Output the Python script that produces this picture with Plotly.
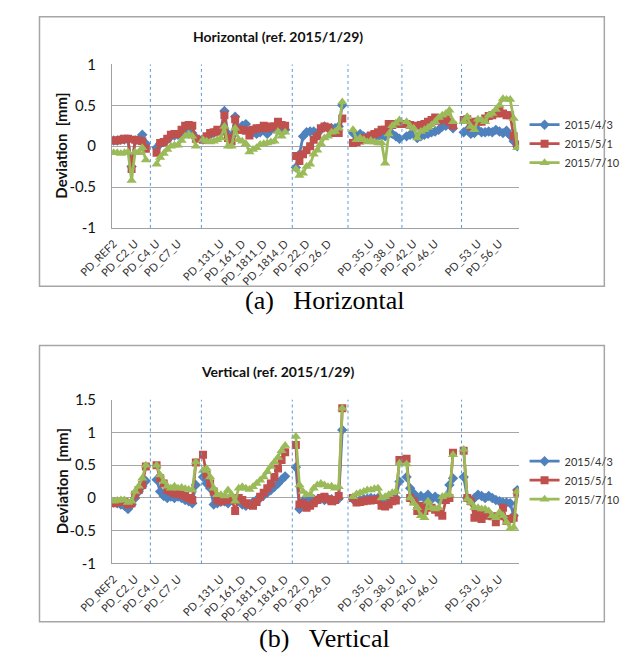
import plotly.graph_objects as go

W, H = 626, 659
N_POINTS = 114
series_names = ["2015/4/3", "2015/5/1", "2015/7/10"]
series_colors = ["#4F81BD", "#C0504D", "#9BBB59"]
series_symbols = ["diamond", "square", "triangle-up"]

# x tick labels, one every 6 categories (blank = empty category label)
tick_labels = ["PD_REF2", "PD_C2_U", "PD_C4_U", "PD_C7_U", "", "PD_131_U", "PD_161_D",
               "PD_1811_D", "PD_1814_D", "PD_22_D", "PD_26_D", "", "PD_35_U", "PD_38_U",
               "PD_42_U", "PD_46_U", "", "PD_53_U", "PD_56_U"]
label_step = 6
# section separators (category position)
section_breaks = [10.26, 24.55, 50.0, 65.6, 80.7, 97.4]

_ = None
# ---------------- Horizontal ----------------
h_blue = [0.07, 0.07, 0.08, 0.08, 0.08, -0.25, 0.07, 0.08, 0.14, 0.03, _, _,
          -0.02, 0.03, 0.05, 0.08, 0.12, 0.13, 0.14, 0.15, 0.17, 0.18, 0.16, 0.1, _,
          0.08, 0.1, 0.14, 0.16, 0.18, 0.2, 0.43, 0.15, 0.12, 0.36, 0.22, 0.25, 0.27, 0.17, 0.17, 0.15,
          0.17, 0.2, 0.15, 0.2, 0.22, 0.25, 0.18, 0.2, _, _,
          -0.26, -0.1, 0.12, 0.17, 0.18, 0.18, 0.16, 0.2, 0.24, 0.22, 0.22, 0.22, 0.24, 0.5, _, _,
          0.16, 0.13, 0.15, 0.12, 0.11, 0.12, 0.13, 0.12, 0.13, 0.12, 0.15, 0.15, 0.12, 0.09, _,
          0.12, 0.14, 0.15, 0.1, 0.12, 0.14, 0.15, 0.17, 0.18, 0.2, 0.24, 0.25, 0.27, 0.22, _, _,
          0.17, 0.2, 0.15, 0.16, 0.2, 0.17, 0.17, 0.18, 0.17, 0.2, 0.18, 0.16, 0.19, 0.13, 0.06, 0.0]
h_red = [0.07, 0.07, 0.08, 0.09, 0.09, -0.28, 0.08, 0.07, 0.06, -0.03, _, _,
         -0.08, 0.04, 0.05, 0.09, 0.14, 0.15, 0.15, 0.2, 0.25, 0.26, 0.25, 0.09, _,
         0.08, 0.12, 0.16, 0.17, 0.2, 0.18, 0.38, 0.1, 0.06, 0.33, 0.2, 0.2, 0.19, 0.13, 0.2, 0.22,
         0.22, 0.25, 0.22, 0.24, 0.24, 0.3, 0.26, 0.25, _, _,
         -0.12, -0.18, -0.1, -0.05, 0.0, 0.08, 0.12, 0.22, 0.24, 0.23, 0.18, 0.16, 0.16, 0.34, _, _,
         0.04, 0.05, 0.07, 0.1, 0.1, 0.13, 0.15, 0.17, 0.2, 0.2, 0.27, 0.26, 0.27, 0.27, _,
         0.27, 0.26, 0.24, 0.25, 0.26, 0.27, 0.3, 0.32, 0.35, 0.31, 0.33, 0.33, 0.3, 0.25, _, _,
         0.32, 0.33, 0.24, 0.3, 0.3, 0.3, 0.34, 0.37, 0.38, 0.4, 0.43, 0.4, 0.38, 0.38, 0.12, 0.02]
h_green = [-0.08, -0.08, -0.09, -0.08, -0.07, -0.42, -0.07, -0.08, -0.02, -0.17, _, _,
           -0.22, -0.14, -0.09, -0.04, 0.0, 0.01, 0.01, 0.07, 0.12, 0.15, 0.12, 0.0, _,
           0.08, 0.06, 0.05, 0.06, 0.08, 0.1, 0.24, 0.0, 0.0, 0.22, 0.08, 0.06, 0.03, -0.07, -0.04, -0.02,
           0.02, 0.03, 0.04, 0.05, 0.06, 0.18, 0.12, 0.17, _, _,
           -0.28, -0.36, -0.33, -0.25, -0.22, -0.1, -0.05, 0.03, 0.1, 0.12, 0.17, 0.18, 0.22, 0.54, _, _,
           0.2, 0.08, 0.1, 0.08, 0.05, 0.07, 0.05, 0.04, 0.04, -0.21, 0.15, 0.25, 0.28, 0.32, _,
           0.3, 0.24, 0.22, 0.1, 0.18, 0.2, 0.23, 0.26, 0.3, 0.35, 0.38, 0.4, 0.44, 0.3, _, _,
           0.3, 0.36, 0.24, 0.2, 0.33, 0.32, 0.3, 0.38, 0.4, 0.45, 0.5, 0.58, 0.57, 0.57, 0.34, -0.02]

# ---------------- Vertical ----------------
v_blue = [-0.07, -0.08, -0.1, -0.12, -0.17, -0.1, 0.0, 0.1, 0.18, 0.26, _, _,
          0.28, 0.1, 0.03, 0.0, 0.02, 0.0, 0.02, 0.0, -0.03, -0.05, -0.08, 0.2, _,
          0.32, 0.22, 0.15, -0.1, -0.08, -0.06, -0.05, -0.08, -0.03, -0.02, -0.05, -0.1, -0.12, -0.1, -0.06, -0.03,
          0.0, 0.04, 0.08, 0.12, 0.17, 0.22, 0.28, 0.33, _, _,
          0.47, -0.17, -0.05, -0.05, -0.03, -0.02, -0.03, -0.01, -0.03, -0.02, -0.02, -0.04, -0.01, 1.04, _, _,
          -0.02, -0.05, -0.03, -0.02, -0.01, 0.0, -0.01, 0.0, -0.08, -0.07, -0.03, -0.02, 0.0, 0.25, _,
          0.32, 0.15, 0.07, 0.0, 0.03, 0.0, 0.05, -0.02, 0.02, -0.02, -0.02, 0.0, 0.2, 0.3, _, _,
          0.32, 0.0, -0.05, 0.0, 0.05, 0.03, 0.0, 0.03, 0.0, -0.03, -0.05, -0.07, -0.07, -0.08, -0.27, 0.12]
v_red = [-0.08, -0.07, -0.06, -0.06, -0.1, -0.08, 0.05, 0.12, 0.2, 0.48, _, _,
         0.5, 0.3, 0.22, 0.12, 0.1, 0.07, 0.07, 0.05, 0.03, 0.0, -0.03, 0.54, _,
         0.66, 0.35, 0.22, 0.1, -0.04, -0.05, -0.04, -0.03, 0.0, -0.2, 0.0, -0.03, -0.08, -0.1, -0.12, -0.06,
         0.02, 0.08, 0.15, 0.22, 0.32, 0.45, 0.58, 0.7, _, _,
         0.81, -0.1, -0.08, -0.15, -0.12, -0.08, -0.03, 0.0, 0.02, -0.02, -0.05, -0.03, 0.03, 1.37, _, _,
         0.0, -0.07, -0.06, -0.05, -0.04, -0.04, -0.03, -0.02, -0.12, -0.13, -0.1, -0.05, -0.04, 0.58, _,
         0.6, 0.0, -0.05, -0.2, -0.12, -0.2, -0.12, -0.15, -0.18, -0.22, -0.27, -0.03, 0.0, 0.69, _, _,
         0.72, 0.0, -0.05, -0.3, -0.22, -0.32, -0.25, -0.27, -0.28, -0.37, -0.28, -0.15, -0.35, -0.32, -0.3, 0.08]
v_green = [-0.05, -0.04, -0.03, -0.03, -0.07, -0.05, 0.1, 0.18, 0.3, 0.5, _, _,
           0.5, 0.35, 0.25, 0.18, 0.15, 0.18, 0.15, 0.16, 0.14, 0.13, 0.12, 0.55, _,
           0.42, 0.45, 0.32, 0.15, 0.05, 0.05, 0.03, 0.12, 0.05, -0.05, 0.15, 0.17, 0.15, 0.13, 0.17, 0.22,
           0.27, 0.32, 0.4, 0.48, 0.55, 0.62, 0.72, 0.8, _, _,
           0.94, 0.2, 0.1, 0.05, 0.05, 0.15, 0.2, 0.22, 0.2, 0.17, 0.18, 0.15, 0.17, 1.37, _, _,
           0.02, 0.06, 0.08, 0.1, 0.12, 0.12, 0.14, 0.15, 0.0, 0.02, 0.05, 0.08, 0.1, 0.53, _,
           0.52, 0.0, -0.08, -0.15, -0.27, -0.3, -0.05, -0.15, -0.17, -0.15, 0.02, 0.04, 0.05, 0.66, _, _,
           0.74, -0.02, -0.07, -0.15, -0.15, -0.17, -0.17, -0.2, -0.27, -0.3, -0.22, -0.27, -0.37, -0.47, -0.45, 0.1]

h_ticks = [-1, -0.5, 0, 0.5, 1]
v_ticks = [-1, -0.5, 0, 0.5, 1, 1.5]


def fmt(v):
    return ("%g" % v).replace("\u2212", "-")


def px(x):
    return x / W


def py(y):
    return 1 - y / H


FONT = "Lato"
x_idx = list(range(N_POINTS))
fig = go.Figure()

charts = [
    ("x", "y", "legend", [h_blue, h_red, h_green]),
    ("x2", "y2", "legend2", [v_blue, v_red, v_green]),
]
sizes = [8, 8, 9]
for xa, ya, lg, data in charts:
    for name, col, sym, sz, vals in zip(series_names, series_colors, series_symbols, sizes, data):
        fig.add_trace(go.Scatter(
            x=x_idx, y=vals, name=name, mode="lines+markers", xaxis=xa, yaxis=ya, legend=lg,
            line=dict(color=col, width=2.75),
            marker=dict(symbol=sym, size=sz, color=col, line=dict(width=0)),
            connectgaps=False,
        ))

tickvals = [i * label_step for i in range(len(tick_labels))]
xdom = [px(85), px(529)]
common_x = dict(range=[-0.5, N_POINTS - 0.5], showgrid=False, zeroline=False, showline=True,
                linecolor="#A0A0A0", linewidth=1, tickmode="array", tickvals=tickvals,
                ticktext=tick_labels, tickangle=-45, ticks="", ticklabelstandoff=4,
                tickfont=dict(family=FONT, size=11, color="#333333"), domain=xdom)
common_y = dict(showgrid=True, gridcolor="#A6A6A6", gridwidth=1, zeroline=False, showline=True,
                linecolor="#A0A0A0", linewidth=1, ticks="", ticklabelstandoff=12,
                tickfont=dict(family=FONT, size=15, color="#111111"))

fig.update_layout(
    width=W, height=H, autosize=False,
    margin=dict(l=0, r=0, t=0, b=0),
    paper_bgcolor="white", plot_bgcolor="white",
    xaxis=dict(common_x, anchor="y"),
    yaxis=dict(common_y, anchor="x", range=[-1, 1], tickmode="array", tickvals=h_ticks,
               ticktext=[fmt(v) for v in h_ticks], domain=[py(224), py(56)]),
    xaxis2=dict(common_x, anchor="y2"),
    yaxis2=dict(common_y, anchor="x2", range=[-1, 1.5], tickmode="array", tickvals=v_ticks,
                ticktext=[fmt(v) for v in v_ticks], domain=[py(569), py(400.7)]),
    legend=dict(x=px(535), y=py(103), xanchor="left", yanchor="top", bgcolor="rgba(0,0,0,0)",
                font=dict(family=FONT, size=11, color="#333333"), itemwidth=30),
    legend2=dict(x=px(535), y=py(449), xanchor="left", yanchor="top", bgcolor="rgba(0,0,0,0)",
                 font=dict(family=FONT, size=11, color="#333333"), itemwidth=30),
    showlegend=True,
)

shapes = []
for xa, ya in [("x", "y"), ("x2", "y2")]:
    for b in section_breaks:
        shapes.append(dict(type="line", xref=xa, yref=ya + " domain", x0=b, x1=b, y0=0, y1=1,
                           line=dict(color="#5B9BD5", width=1, dash="3px,3px")))
# chart-area frames
for (y0, y1) in [(7, 284), (345, 629)]:
    shapes.append(dict(type="rect", xref="paper", yref="paper", x0=px(6), x1=px(622),
                       y0=py(y1), y1=py(y0), line=dict(color="#A6A6A6", width=1.5)))
fig.update_layout(shapes=shapes)

ann = []
for title, yc in [("Horizontal (ref. 2015/1/29)", 27), ("Vertical (ref. 2015/1/29)", 372)]:
    ann.append(dict(text="<b>" + title + "</b>", x=px(266), y=py(yc), xref="paper", yref="paper",
                    showarrow=False, xanchor="center", yanchor="middle",
                    font=dict(family=FONT, size=14, color="#111111")))
for yc in [140, 485]:
    ann.append(dict(text="<b>Deviation\u00a0 [mm]</b>", x=px(30), y=py(yc), xref="paper", yref="paper",
                    showarrow=False, textangle=-90, xanchor="center", yanchor="middle",
                    font=dict(family=FONT, size=15, color="#111111")))
for cap, yc in [("(a)\u00a0\u00a0\u00a0Horizontal", 299), ("(b)\u00a0\u00a0\u00a0Vertical", 646)]:
    ann.append(dict(text=cap, x=px(317), y=py(yc), xref="paper", yref="paper", showarrow=False,
                    xanchor="center", yanchor="middle",
                    font=dict(family="Liberation Serif", size=26, color="#000000")))
fig.update_layout(annotations=ann)

fig.write_html("out.html")
